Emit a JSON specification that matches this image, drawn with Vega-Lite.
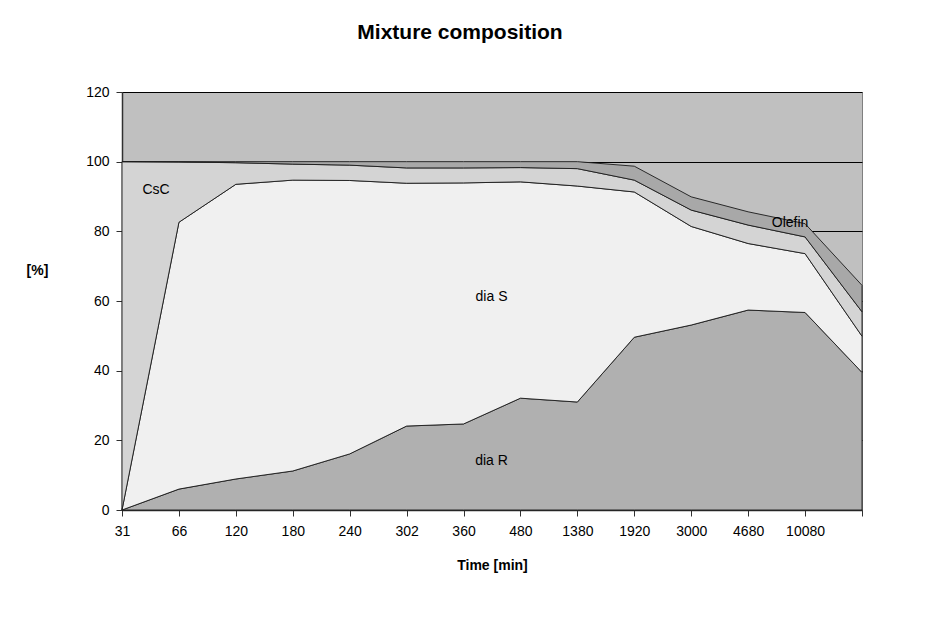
{
  "$schema": "https://vega.github.io/schema/vega-lite/v6.json",
  "width": 740,
  "height": 418,
  "autosize": {"type": "none"},
  "padding": {"left": 122, "top": 92, "right": 86, "bottom": 120},
  "background": "white",
  "title": {
    "text": "Mixture composition",
    "font": "Liberation Sans",
    "fontSize": 21,
    "fontWeight": "bold",
    "color": "black",
    "anchor": "middle",
    "dx": -32,
    "offset": 42
  },
  "config": {
    "view": {"fill": "#c0c0c0", "stroke": "#808080", "strokeWidth": 1},
    "axis": {
      "labelFont": "Liberation Sans",
      "labelFontSize": 14,
      "labelColor": "black",
      "titleFont": "Liberation Sans",
      "titleFontSize": 14,
      "titleFontWeight": "bold",
      "titleColor": "black",
      "domainColor": "#303030",
      "domainWidth": 1.5,
      "tickColor": "#303030",
      "tickSize": 6
    },
    "text": {"font": "Liberation Sans", "fontSize": 14, "color": "black", "align": "center", "baseline": "middle"}
  },
  "datasets": {
    "mix": [
      {"time": "31", "series": "dia R", "rank": 1, "value": 0},
      {"time": "31", "series": "dia S", "rank": 2, "value": 0},
      {"time": "31", "series": "CsC", "rank": 3, "value": 100},
      {"time": "31", "series": "Olefin", "rank": 4, "value": 0},
      {"time": "66", "series": "dia R", "rank": 1, "value": 6.0},
      {"time": "66", "series": "dia S", "rank": 2, "value": 76.6},
      {"time": "66", "series": "CsC", "rank": 3, "value": 17.3},
      {"time": "66", "series": "Olefin", "rank": 4, "value": 0.1},
      {"time": "120", "series": "dia R", "rank": 1, "value": 8.9},
      {"time": "120", "series": "dia S", "rank": 2, "value": 84.6},
      {"time": "120", "series": "CsC", "rank": 3, "value": 6.2},
      {"time": "120", "series": "Olefin", "rank": 4, "value": 0.3},
      {"time": "180", "series": "dia R", "rank": 1, "value": 11.2},
      {"time": "180", "series": "dia S", "rank": 2, "value": 83.5},
      {"time": "180", "series": "CsC", "rank": 3, "value": 4.6},
      {"time": "180", "series": "Olefin", "rank": 4, "value": 0.7},
      {"time": "240", "series": "dia R", "rank": 1, "value": 16.1},
      {"time": "240", "series": "dia S", "rank": 2, "value": 78.5},
      {"time": "240", "series": "CsC", "rank": 3, "value": 4.4},
      {"time": "240", "series": "Olefin", "rank": 4, "value": 1.0},
      {"time": "302", "series": "dia R", "rank": 1, "value": 24.1},
      {"time": "302", "series": "dia S", "rank": 2, "value": 69.7},
      {"time": "302", "series": "CsC", "rank": 3, "value": 4.4},
      {"time": "302", "series": "Olefin", "rank": 4, "value": 1.8},
      {"time": "360", "series": "dia R", "rank": 1, "value": 24.7},
      {"time": "360", "series": "dia S", "rank": 2, "value": 69.2},
      {"time": "360", "series": "CsC", "rank": 3, "value": 4.3},
      {"time": "360", "series": "Olefin", "rank": 4, "value": 1.8},
      {"time": "480", "series": "dia R", "rank": 1, "value": 32.1},
      {"time": "480", "series": "dia S", "rank": 2, "value": 62.1},
      {"time": "480", "series": "CsC", "rank": 3, "value": 4.1},
      {"time": "480", "series": "Olefin", "rank": 4, "value": 1.7},
      {"time": "1380", "series": "dia R", "rank": 1, "value": 31.0},
      {"time": "1380", "series": "dia S", "rank": 2, "value": 62.0},
      {"time": "1380", "series": "CsC", "rank": 3, "value": 5.0},
      {"time": "1380", "series": "Olefin", "rank": 4, "value": 2.0},
      {"time": "1920", "series": "dia R", "rank": 1, "value": 49.6},
      {"time": "1920", "series": "dia S", "rank": 2, "value": 41.7},
      {"time": "1920", "series": "CsC", "rank": 3, "value": 3.4},
      {"time": "1920", "series": "Olefin", "rank": 4, "value": 4.0},
      {"time": "3000", "series": "dia R", "rank": 1, "value": 53.1},
      {"time": "3000", "series": "dia S", "rank": 2, "value": 28.3},
      {"time": "3000", "series": "CsC", "rank": 3, "value": 4.7},
      {"time": "3000", "series": "Olefin", "rank": 4, "value": 3.8},
      {"time": "4680", "series": "dia R", "rank": 1, "value": 57.4},
      {"time": "4680", "series": "dia S", "rank": 2, "value": 19.1},
      {"time": "4680", "series": "CsC", "rank": 3, "value": 5.3},
      {"time": "4680", "series": "Olefin", "rank": 4, "value": 3.8},
      {"time": "10080", "series": "dia R", "rank": 1, "value": 56.7},
      {"time": "10080", "series": "dia S", "rank": 2, "value": 16.9},
      {"time": "10080", "series": "CsC", "rank": 3, "value": 4.8},
      {"time": "10080", "series": "Olefin", "rank": 4, "value": 3.8},
      {"time": "end", "series": "dia R", "rank": 1, "value": 39.5},
      {"time": "end", "series": "dia S", "rank": 2, "value": 10.4},
      {"time": "end", "series": "CsC", "rank": 3, "value": 7.0},
      {"time": "end", "series": "Olefin", "rank": 4, "value": 7.6}
    ],
    "labels": [
      {"time": "31", "value": 91.8, "label": "CsC"},
      {"time": "360", "value": 61.1, "label": "dia S"},
      {"time": "360", "value": 14.1, "label": "dia R"},
      {"time": "10080", "value": 82.3, "label": "Olefin"}
    ]
  },
  "encoding": {
    "x": {
      "field": "time",
      "type": "ordinal",
      "sort": ["31", "66", "120", "180", "240", "302", "360", "480", "1380", "1920", "3000", "4680", "10080", "end"],
      "scale": {"type": "point", "padding": 0},
      "axis": {
        "title": "Time [min]",
        "labelAngle": 0,
        "labelPadding": 8,
        "labelExpr": "datum.value === 'end' ? '' : datum.value",
        "grid": false,
        "titleY": 55,
        "titleBaseline": "middle"
      }
    }
  },
  "layer": [
    {
      "data": {"name": "mix"},
      "mark": {"type": "area", "stroke": "#1a1a1a", "strokeWidth": 0.9, "strokeJoin": "miter"},
      "encoding": {
        "y": {
          "field": "value",
          "type": "quantitative",
          "stack": "zero",
          "scale": {"domain": [0, 120], "nice": false},
          "axis": {
            "title": "[%]",
            "titleAngle": 0,
            "titleX": -85,
            "titleY": 178,
            "titleAlign": "center",
            "titleBaseline": "middle",
            "values": [0, 20, 40, 60, 80, 100, 120],
            "grid": true,
            "gridColor": "black",
            "gridWidth": 1,
            "gridOpacity": 1,
            "labelPadding": 7
          }
        },
        "color": {
          "field": "series",
          "type": "nominal",
          "scale": {
            "domain": ["dia R", "dia S", "CsC", "Olefin"],
            "range": ["#b0b0b0", "#f0f0f0", "#d4d4d4", "#a8a8a8"]
          },
          "legend": null
        },
        "order": {"field": "rank", "type": "quantitative", "sort": "ascending"}
      }
    },
    {
      "data": {"name": "labels"},
      "transform": [{"filter": "datum.label === 'CsC'"}],
      "mark": {"type": "text", "dx": 34},
      "encoding": {"y": {"field": "value", "type": "quantitative"}, "text": {"field": "label"}}
    },
    {
      "data": {"name": "labels"},
      "transform": [{"filter": "datum.label === 'dia S' || datum.label === 'dia R'"}],
      "mark": {"type": "text", "dx": 28},
      "encoding": {"y": {"field": "value", "type": "quantitative"}, "text": {"field": "label"}}
    },
    {
      "data": {"name": "labels"},
      "transform": [{"filter": "datum.label === 'Olefin'"}],
      "mark": {"type": "text", "dx": -15},
      "encoding": {"y": {"field": "value", "type": "quantitative"}, "text": {"field": "label"}}
    }
  ]
}
